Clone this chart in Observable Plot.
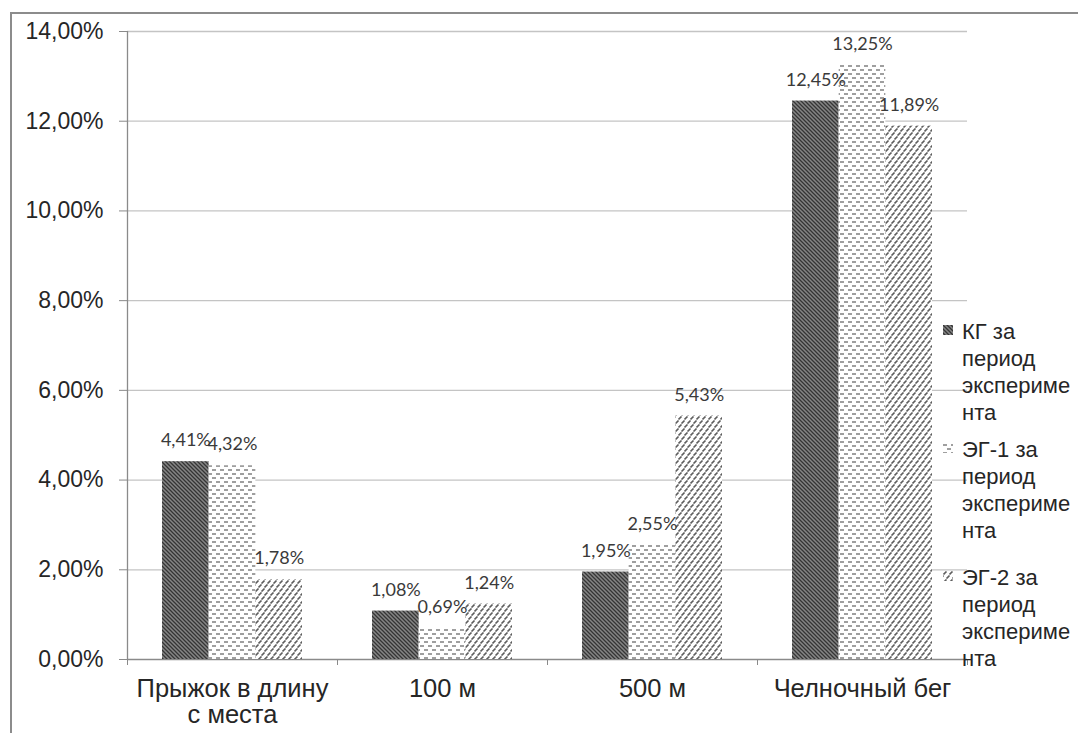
<!DOCTYPE html>
<html><head><meta charset="utf-8">
<script src="https://cdn.jsdelivr.net/npm/d3@7"></script>
<script src="https://cdn.jsdelivr.net/npm/@observablehq/plot@0.6"></script>
<style>
html,body{margin:0;padding:0;background:#fff;overflow:hidden;width:1078px;height:733px}
#wrap{position:relative;width:1078px;height:733px;overflow:hidden}
#chart{position:absolute;left:0;top:0}
#frame{position:absolute;left:10px;top:12px;width:1200px;height:900px;border:2px solid #8c8c8c;box-sizing:border-box;pointer-events:none}
#legend{position:absolute;left:0;top:0;width:1078px;height:733px;overflow:hidden;pointer-events:none;font-family:"Liberation Sans",Arial,sans-serif;font-size:22px;color:#262626;line-height:27px}
.item{position:absolute;left:943px;white-space:nowrap}
.item .txt{position:absolute;left:19px;top:0}
.item svg{position:absolute;left:0;top:7px}
</style></head><body>
<div id="wrap">
<svg width="0" height="0" style="position:absolute">
  <defs>
    <pattern id="pKG" patternUnits="userSpaceOnUse" width="4" height="4">
      <rect width="4" height="4" fill="#858585"/>
      <path d="M-1,-1 L5,5 M-1,3 L1,5 M3,-1 L5,1" stroke="#353535" stroke-width="1.3"/>
    </pattern>
    <pattern id="pEG1" patternUnits="userSpaceOnUse" width="8" height="8">
      <rect width="8" height="8" fill="#ffffff"/>
      <path d="M0,2 L4,2 M4,6 L8,6" stroke="#808080" stroke-width="1.7"/>
    </pattern>
    <pattern id="pEG2" patternUnits="userSpaceOnUse" width="6" height="8">
      <rect width="6" height="8" fill="#ffffff"/>
      <path d="M0.5,3.5 L3.5,0.5 M3.5,7.5 L6.5,4.5 M-2.5,7.5 L0.5,4.5" stroke="#5e5e5e" stroke-width="1.6"/>
    </pattern>
  </defs>
</svg>
<div id="chart"></div>
<div id="legend"></div>
<div id="frame"></div>
</div>
<script>
// ---- data ----
const categories = ["Прыжок в длину\nс места", "100 м", "500 м", "Челночный бег"];
const series = ["КГ за период эксперимента", "ЭГ-1 за период эксперимента", "ЭГ-2 за период эксперимента"];
const legendLines = [
  ["КГ за", "период", "экспериме", "нта"],
  ["ЭГ-1 за", "период", "экспериме", "нта"],
  ["ЭГ-2 за", "период", "экспериме", "нта"]
];
const kg  = [4.41, 1.08, 1.95, 12.45];
const eg1 = [4.32, 0.69, 2.55, 13.25];
const eg2 = [1.78, 1.24, 5.43, 11.89];
const yTicks = [0, 2, 4, 6, 8, 10, 12, 14];
const patterns = ["url(#pKG)", "url(#pEG1)", "url(#pEG2)"];

// ---- table built from the arrays ----
const values = [kg, eg1, eg2];
const rows = [];
categories.forEach((c, i) => {
  series.forEach((s, j) => {
    const x1 = i + 1/6 + j * 2/9;
    rows.push({cat: i, series: s, value: values[j][i], x1, x2: x1 + 2/9, xc: x1 + 1/9});
  });
});
const fmt = v => v.toFixed(2).replace(".", ",") + "%";

const plot = Plot.plot({
  width: 1078, height: 733,
  marginLeft: 127, marginRight: 111, marginTop: 31, marginBottom: 74,
  style: {fontFamily: "'Liberation Sans', Arial, sans-serif", fontSize: "23px", color: "#262626", background: "transparent", overflow: "visible"},
  x: {domain: [0, 4], ticks: [0, 1, 2, 3, 4], tickFormat: () => "", tickSize: 6, label: null},
  y: {domain: [0, 14], ticks: yTicks, tickFormat: fmt, tickSize: 8, tickPadding: 16, label: null},
  color: {domain: series, range: patterns},
  marks: [
    Plot.ruleY(yTicks.slice(1), {stroke: "#c4c4c4", strokeWidth: 1.3}),
    Plot.ruleY([0], {stroke: "#8a8a8a", strokeWidth: 1.3}),
    Plot.ruleX([0], {stroke: "#8a8a8a", strokeWidth: 1.3}),
    Plot.rectY(rows, {x1: "x1", x2: "x2", y1: 0, y2: "value", fill: "series"}),
    Plot.text(rows, {x: "xc", y: "value", text: d => fmt(d.value), dy: -21, fontFamily: "Lato, 'Open Sans', sans-serif", fontSize: 18, fill: "#3a3a3a"}),
    Plot.text(categories, {x: (d, i) => i + 0.5, y: () => 0, text: d => d, dy: 19, lineAnchor: "top", lineHeight: 1.02, fontSize: 25.5, fill: "#262626"})
  ]
});
document.getElementById("chart").appendChild(plot);

// axis strokes grey
d3.select(plot).selectAll("g[aria-label*='axis'] line, g[aria-label*='axis'] path").attr("stroke", "#8a8a8a");

// ---- legend (HTML) ----
const legend = d3.select("#legend");
const tops = [318, 436, 564];
legendLines.forEach((lines, j) => {
  const it = legend.append("div").attr("class", "item").style("top", tops[j] + "px");
  it.append("svg").attr("width", 10).attr("height", 10)
    .append("rect").attr("width", 10).attr("height", 10).attr("fill", patterns[j]);
  const t = it.append("div").attr("class", "txt");
  lines.forEach(l => t.append("div").text(l));
});
</script>
</body></html>
